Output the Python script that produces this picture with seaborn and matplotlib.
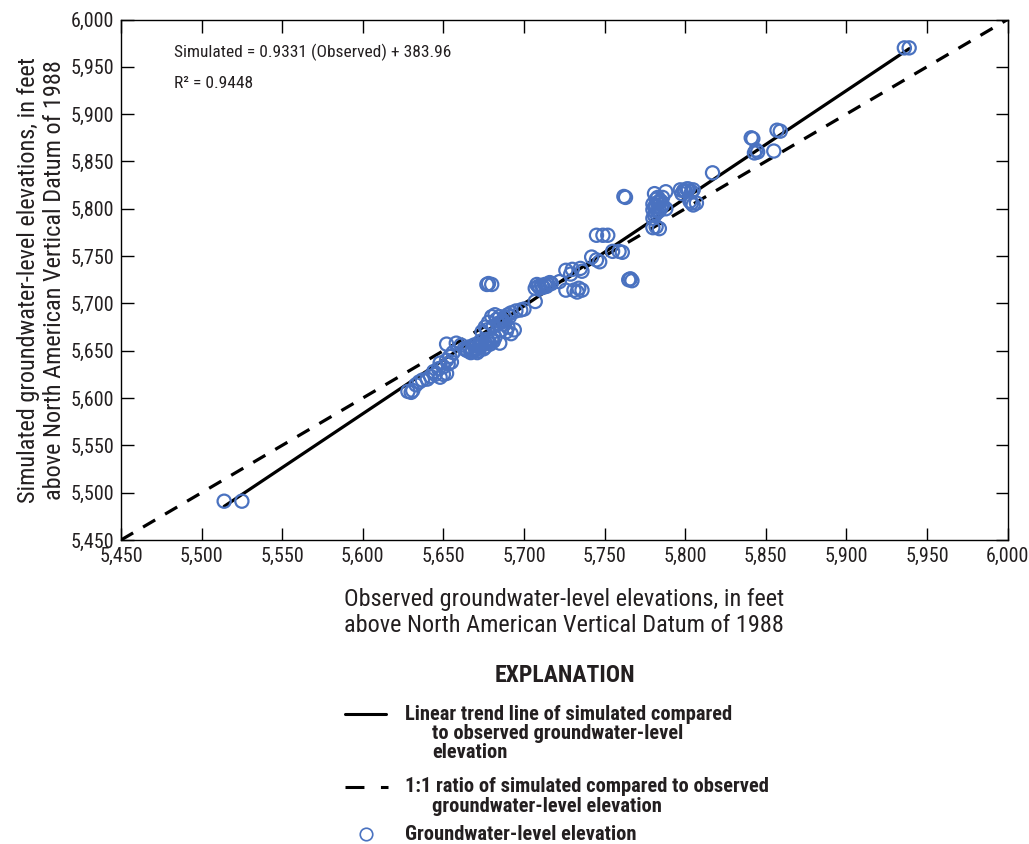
import matplotlib
matplotlib.use("Agg")
import matplotlib.pyplot as plt
from matplotlib import font_manager
from matplotlib.lines import Line2D
import seaborn as sns
import numpy as np
import pandas as pd

# Observed vs simulated groundwater-level elevations (feet, NAVD 88)
observed = [
    5514, 5525,
    5628, 5630, 5631, 5633, 5635, 5637, 5640, 5642, 5644, 5645, 5648, 5650, 5652,
    5647, 5650, 5653, 5655, 5652, 5648, 5654, 5656, 5652, 5658, 5661, 5663,
    5665, 5668, 5670, 5672, 5674, 5676, 5678, 5680, 5667, 5671, 5675, 5679, 5682,
    5670, 5673, 5685, 5666, 5669, 5673, 5677, 5681, 5664, 5668, 5672, 5676,
    5676, 5678, 5680, 5683, 5686, 5688, 5690, 5692, 5695, 5698, 5700, 5686, 5689,
    5692, 5694, 5690, 5674, 5677, 5681, 5684, 5687, 5691, 5682, 5685, 5688,
    5707, 5677, 5680, 5678,
    5707, 5709, 5711, 5713, 5715, 5717, 5710, 5708, 5712, 5714, 5716,
    5722, 5726, 5729, 5730, 5735, 5736, 5726, 5731, 5734, 5736, 5733,
    5742, 5745, 5747, 5745, 5749, 5752, 5755, 5759, 5761, 5765, 5767, 5766,
    5762, 5763,
    5780, 5782, 5784, 5780, 5782, 5784, 5781, 5783, 5785, 5780, 5782, 5786,
    5781, 5783, 5785, 5782, 5784, 5780, 5783,
    5781, 5788, 5786, 5788,
    5797, 5800, 5802, 5804, 5798, 5805, 5801, 5799, 5803, 5805, 5807, 5804,
    5817, 5841, 5842, 5843, 5845, 5844, 5855, 5857, 5859, 5936, 5939,
]
simulated = [
    5491, 5491,
    5607, 5606, 5608, 5614, 5617, 5619, 5620, 5623, 5628, 5625, 5622, 5625, 5626,
    5631, 5633, 5636, 5638, 5640, 5637, 5644, 5648, 5657, 5658, 5656, 5652,
    5650, 5652, 5651, 5654, 5656, 5658, 5660, 5662, 5648, 5648, 5652, 5657, 5664,
    5656, 5660, 5658, 5654, 5656, 5657, 5662, 5660, 5651, 5649, 5650, 5654,
    5675, 5680, 5686, 5683, 5680, 5685, 5688, 5690, 5692, 5693, 5694, 5672, 5670,
    5668, 5672, 5675, 5670, 5672, 5676, 5679, 5682, 5686, 5688, 5686, 5678,
    5702, 5720, 5720, 5721,
    5716, 5718, 5719, 5720, 5720, 5721, 5716, 5720, 5717, 5718, 5722,
    5723, 5735, 5731, 5736, 5737, 5734, 5714, 5714, 5716, 5714, 5712,
    5749, 5746, 5744, 5772, 5772, 5772, 5755, 5755, 5754, 5725, 5724, 5726,
    5813, 5812,
    5780, 5781, 5779, 5790, 5795, 5798, 5802, 5806, 5808, 5805, 5810, 5804,
    5793, 5797, 5801, 5803, 5808, 5799, 5812,
    5816, 5818, 5812, 5800,
    5820, 5819, 5821, 5818, 5816, 5820, 5821, 5819, 5808, 5804, 5806, 5806,
    5838, 5875, 5874, 5859, 5860, 5862, 5861, 5883, 5882, 5970, 5970,
]

# trend line as drawn in the figure
trend_slope = 1.138
trend_intercept = -789.4

axis_min, axis_max = 5450, 6000
ticks = list(range(5450, 6001, 50))

df = pd.DataFrame({"Observed": observed, "Simulated": simulated})
trend_x = np.array([min(observed), max(observed)])
trend_df = pd.DataFrame({"x": trend_x, "y": trend_slope * trend_x + trend_intercept})
one_df = pd.DataFrame({"x": [axis_min, axis_max], "y": [axis_min, axis_max]})

sns.set_style("ticks")

# pick a condensed face if one is installed
names = {f.name for f in font_manager.fontManager.ttflist}
family = "Liberation Sans"
for cand in ["Liberation Sans Narrow", "Roboto Condensed"]:
    if cand in names:
        family = cand
        break
plt.rcParams["font.family"] = [family, "DejaVu Sans"]
k = 1.0 if family != "Liberation Sans" else 0.85

W, H = 1029, 844
blue = "#4a72c0"
ink = "#231f20"
fig = plt.figure(figsize=(W / 100, H / 100), dpi=100)
ax = fig.add_axes([121 / W, 1 - 540 / H, 886.5 / W, 520.5 / H])

sns.lineplot(data=one_df, x="x", y="y", ax=ax, color="black", lw=2.3,
             linestyle=(0, (4.4, 3.6)), zorder=2)
sns.lineplot(data=trend_df, x="x", y="y", ax=ax, color="black", lw=2.3, zorder=3)
sns.scatterplot(data=df, x="Observed", y="Simulated", ax=ax, marker="o",
                facecolor="none", edgecolor=blue, linewidth=1.6, s=90, zorder=4)

ax.set_xlim(axis_min, axis_max)
ax.set_ylim(axis_min, axis_max)
ax.set_xticks(ticks)
ax.set_yticks(ticks)
ax.set_xticklabels([f"{t:,}" for t in ticks])
ax.set_yticklabels([f"{t:,}" for t in ticks])
ax.tick_params(direction="in", length=9, width=1, labelsize=14.5 * k, top=True, right=True,
               colors="black", labelcolor=ink, pad=5)
for sp in ax.spines.values():
    sp.set_color("black")
    sp.set_linewidth(1)

ax.set_xlabel("Observed groundwater-level elevations, in feet\nabove North American Vertical Datum of 1988",
              fontsize=17.5 * k, labelpad=16, linespacing=1.15, color=ink)
ax.set_ylabel("Simulated groundwater-level elevations, in feet\nabove North American Vertical Datum of 1988",
              fontsize=17.5 * k, labelpad=3, linespacing=1.15, color=ink)

ax.text(0.06, 0.937, "Simulated = 0.9331 (Observed) + 383.96", transform=ax.transAxes,
        fontsize=12.5 * k, va="center", ha="left", color=ink)
ax.text(0.06, 0.878, "R\u00b2 = 0.9448", transform=ax.transAxes,
        fontsize=12.5 * k, va="center", ha="left", color=ink)


# explanation block, laid out in figure pixels
def fx(px):
    return px / W


def fy(py):
    return 1 - py / H


fig.text(fx(565), fy(676), "EXPLANATION", ha="center", va="center",
         fontsize=17 * k, fontweight="bold", color=ink)

fig.add_artist(Line2D([fx(345), fx(386)], [fy(714), fy(714)], color="black", lw=2.2))
fig.add_artist(Line2D([fx(345), fx(388)], [fy(787), fy(787)], color="black", lw=2.2,
                      linestyle=(0, (6.2, 5.4))))
fig.add_artist(Line2D([fx(366)], [fy(834)], marker="o", markersize=9,
                      markerfacecolor="none", markeredgecolor=blue,
                      markeredgewidth=1.2, linestyle="none"))

legend_lines = [
    (405, 714, "Linear trend line of simulated compared"),
    (432, 733.5, "to observed groundwater-level"),
    (432, 753, "elevation"),
    (405, 787, "1:1 ratio of simulated compared to observed"),
    (432, 806.5, "groundwater-level elevation"),
    (405, 834, "Groundwater-level elevation"),
]
for px, py, txt in legend_lines:
    fig.text(fx(px), fy(py), txt, ha="left", va="center", fontsize=14.8 * k,
             fontweight="bold", color=ink)

fig.savefig("out.png", dpi=100)
